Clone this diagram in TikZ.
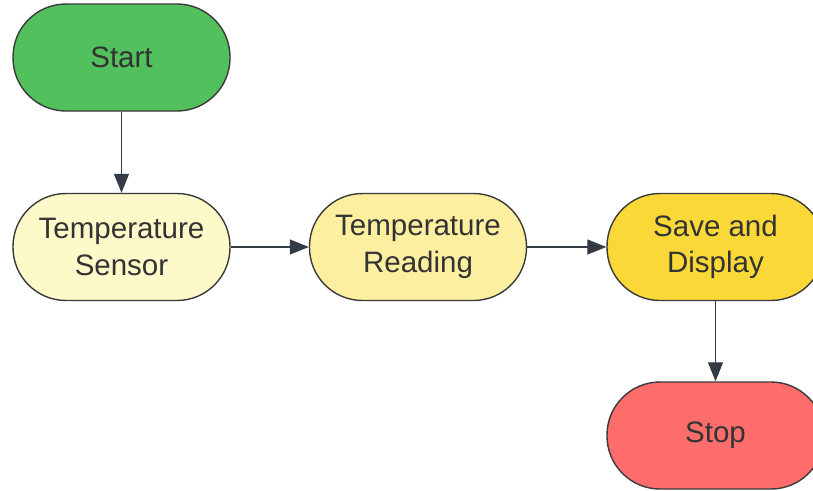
\documentclass[tikz,border=0pt]{standalone}
\usepackage{fontspec}
\setmainfont{Liberation Sans}
\usetikzlibrary{arrows.meta}
\definecolor{startc}{HTML}{52C05C}
\definecolor{sensorc}{HTML}{FEF9C8}
\definecolor{readc}{HTML}{FCEF9F}
\definecolor{savec}{HTML}{F9D838}
\definecolor{stopc}{HTML}{FE6C6C}
\definecolor{edgec}{HTML}{3A3A3A}
\definecolor{arrowc}{HTML}{333B44}
\definecolor{txtc}{HTML}{333333}
\tikzset{
  term/.style={draw=edgec, line width=1.4pt, rounded corners=53pt,
    minimum width=217pt, minimum height=107pt, inner sep=0pt,
    align=center, text=txtc, font=\fontsize{29.5}{36.5}\selectfont},
  conn/.style={draw=arrowc, line width=1.3pt,
    -{Triangle[length=19pt,width=15pt]}}
}
\begin{document}
\begin{tikzpicture}[x=1pt,y=-1pt]
\useasboundingbox (0,0) rectangle (813,490);
\clip (0,0) rectangle (813,490);
\fill[white] (0,0) rectangle (813,490);
\node[term, fill=startc] (start) at (121.5,57.5) {Start};
\node[term, fill=sensorc] (sensor) at (121.5,247) {Temperature\\Sensor};
\node[term, fill=readc] (read) at (418,247) {Temperature\\Reading};
\node[term, fill=savec] (save) at (715.5,247) {Save and\\Display};
\node[term, fill=stopc] (stop) at (715.5,435.5) {Stop};
\draw[conn] (start) -- (sensor);
\draw[conn] (sensor) -- (read);
\draw[conn] (read) -- (save);
\draw[conn] (save) -- (stop);
\end{tikzpicture}
\end{document}
